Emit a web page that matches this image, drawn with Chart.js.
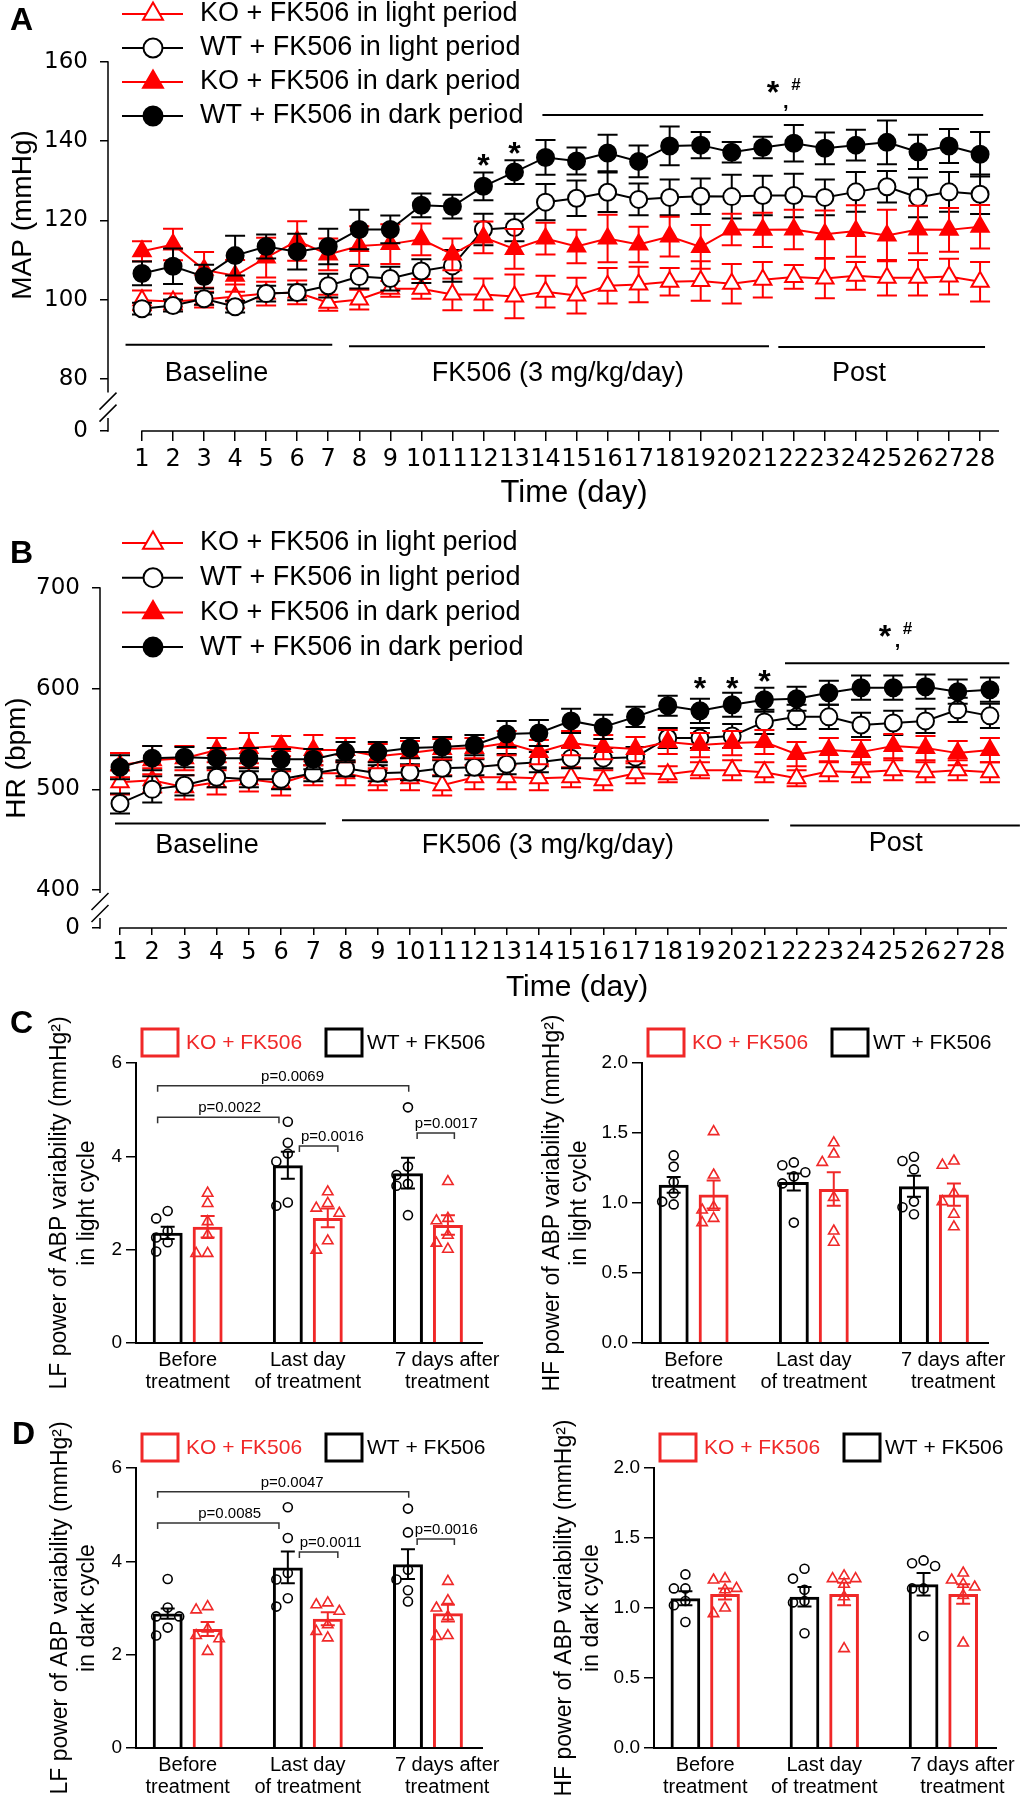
<!DOCTYPE html>
<html>
<head>
<meta charset="utf-8">
<title>FK506: MAP, HR and ABP variability</title>
<script src="https://cdn.jsdelivr.net/npm/chart.js@4.4.1/dist/chart.umd.min.js"></script>
<style>
  html, body { margin:0; padding:0; background:#fff; }
  #fig { position:relative; width:1023px; height:1800px; overflow:hidden; background:#fff; }
  #fig canvas { position:absolute; }
  .plabel { position:absolute; font-family:"Liberation Sans", Arial, sans-serif; font-weight:bold; font-size:32px; line-height:1; color:#000; z-index:2; }
</style>
</head>
<body>
<div id="fig">
  <canvas id="chartA" width="1023" height="520" style="left:0px;top:0px"></canvas>
  <canvas id="chartB" width="1023" height="485" style="left:0px;top:520px"></canvas>
  <canvas id="chartC1" width="510" height="395" style="left:0px;top:1005px"></canvas>
  <canvas id="chartC2" width="513" height="395" style="left:510px;top:1005px"></canvas>
  <canvas id="chartD1" width="510" height="400" style="left:0px;top:1400px"></canvas>
  <canvas id="chartD2" width="513" height="400" style="left:510px;top:1400px"></canvas>
  <div class="plabel" style="left:10px;top:3px">A</div>
  <div class="plabel" style="left:10px;top:536px">B</div>
  <div class="plabel" style="left:10px;top:1006px">C</div>
  <div class="plabel" style="left:12px;top:1417px">D</div>
</div>
<script>
// ---------------- DATA ----------------
const days = [1,2,3,4,5,6,7,8,9,10,11,12,13,14,15,16,17,18,19,20,21,22,23,24,25,26,27,28];
const seriesNames = ['KO + FK506 in light period','WT + FK506 in light period','KO + FK506 in dark period','WT + FK506 in dark period'];
const mapTickValues = [80,100,120,140,160];
const hrTickValues = [400,500,600,700];
const brokenAxisZero = '0';

// Panel A: MAP (mmHg), mean and SEM
const mapKoLight    = [99.8,99.5,100.0,100.8,101.5,101.8,99.2,100.0,102.7,102.7,101.3,101.3,100.8,102.0,101.0,103.5,103.8,104.5,104.7,104.0,105.0,105.7,105.3,106.0,105.5,105.5,105.8,104.5];
const mapKoLightSem = [2.5,2.0,2.0,3.0,3.0,3.0,2.0,2.5,2.0,2.5,4.0,4.0,5.5,4.0,4.5,4.5,4.5,3.5,5.0,5.0,4.5,3.0,5.0,3.5,4.5,4.5,4.5,5.0];
const mapWtLight    = [97.7,98.5,100.2,98.2,101.5,101.8,103.5,105.8,105.3,107.2,108.5,117.7,118.2,124.6,125.6,127.1,125.3,125.8,126.1,126.0,126.3,126.3,125.8,127.2,128.5,125.8,127.2,126.6];
const mapWtLightSem = [1.5,1.5,1.5,1.5,2.0,2.0,3.0,3.0,3.0,3.0,4.0,4.0,3.5,4.6,4.5,5.0,4.0,4.5,4.5,5.5,5.0,5.5,4.5,5.0,4.0,5.0,5.0,5.0];
const mapKoDark     = [112.2,113.9,107.5,106.0,110.6,114.8,111.4,113.5,114.0,115.2,111.4,115.7,112.8,115.4,113.4,115.4,113.9,115.9,113.3,117.7,117.6,117.7,116.5,117.3,116.2,117.7,117.6,118.4];
const mapKoDarkSem  = [2.5,4.0,4.5,4.0,5.0,5.0,4.0,5.0,5.0,4.0,4.0,4.0,5.0,4.0,4.2,6.0,4.5,5.0,5.5,4.0,4.3,5.0,6.0,6.5,6.5,6.0,5.5,5.5];
const mapWtDark     = [106.6,108.4,105.8,111.1,113.4,112.1,113.4,117.7,117.7,123.8,123.5,128.6,132.2,135.9,135.0,137.0,134.9,138.8,139.0,137.2,138.4,139.5,138.2,139.0,139.7,137.3,138.8,136.7];
const mapWtDarkSem  = [3.0,4.5,3.0,5.0,3.0,4.5,4.5,5.0,3.5,3.0,3.0,3.5,3.0,4.4,3.4,4.6,4.0,4.9,3.3,2.6,2.7,4.6,4.0,3.9,5.5,4.3,4.3,5.6];

// Panel B: HR (bpm), mean and SEM
const hrKoLight    = [507,509,502,507,510,506,516,516,509,511,504,512,512,511,512,509,516,515,519,519,517,511,518,517,519,517,519,517];
const hrKoLightSem = [12,12,12,12,12,12,12,12,10,12,10,12,12,12,10,10,10,8,8,10,10,8,10,10,10,10,10,10];
const hrWtLight    = [486,500,504,512,510,510,516,521,516,517,521,522,525,527,531,531,532,551,551,553,567,572,572,564,566,568,579,573];
const hrWtLightSem = [10,13,10,10,8,10,8,8,8,8,8,8,10,10,10,10,10,10,10,12,12,12,12,12,12,12,12,12];
const hrKoDark     = [524,529,531,539,541,543,539,539,533,536,540,541,546,537,546,542,540,547,544,546,547,535,539,537,543,541,536,539];
const hrKoDarkSem  = [12,14,12,12,15,10,15,12,12,12,10,10,12,12,12,12,12,12,12,12,12,12,12,12,12,12,12,12];
const hrWtDark     = [522,531,532,531,531,530,530,537,537,541,542,544,555,556,568,562,572,583,578,584,589,590,596,601,601,602,597,599];
const hrWtDarkSem  = [12,12,10,10,10,10,10,10,10,10,10,10,13,13,12,12,10,10,12,12,12,12,12,12,12,12,12,12];

// Panels C, D: groups
const groupLabels = [['Before','treatment'],['Last day','of treatment'],['7 days after','treatment']];
const groupIdx = [1,2,3];
const groupNames = ['WT + FK506','KO + FK506'];

// C left: LF power, light cycle
const lfLightWt = [2.36,3.81,3.64];   const lfLightWtSem = [0.13,0.29,0.33];
const lfLightKo = [2.49,2.68,2.53];   const lfLightKoSem = [0.23,0.20,0.21];
const lfLightWtPts = [[2.83,2.67,2.40,2.26,2.16,1.96],[4.74,4.29,4.06,3.89,3.01,2.94],[5.05,3.78,3.60,3.41,3.37,2.74]];
const lfLightKoPts = [[3.21,2.99,2.60,2.31,1.92,1.92],[3.24,2.99,2.89,2.78,2.19,1.99],[3.46,2.67,2.62,2.31,2.14,2.01]];
const lfLightP = ['p=0.0069','p=0.0022','p=0.0016','p=0.0017'];

// C right: HF power, light cycle
const hfLightWt = [1.13,1.15,1.12];   const hfLightWtSem = [0.056,0.06,0.075];
const hfLightKo = [1.06,1.10,1.06];   const hfLightKoSem = [0.10,0.12,0.08];
const hfLightWtPts = [[1.34,1.26,1.15,1.07,1.01,0.99],[1.29,1.27,1.22,1.19,1.14,0.86],[1.33,1.30,1.24,1.01,0.97,0.92]];
const hfLightKoPts = [[1.51,1.20,0.97,0.95,0.89,0.86],[1.43,1.35,1.29,1.04,0.80,0.72],[1.30,1.27,1.07,1.01,0.92,0.83]];

// D left: LF power, dark cycle
const lfDarkWt = [2.88,3.87,3.94];    const lfDarkWtSem = [0.11,0.34,0.32];
const lfDarkKo = [2.55,2.77,2.89];    const lfDarkKoSem = [0.15,0.14,0.18];
const lfDarkWtPts = [[3.62,3.01,2.82,2.82,2.58,2.41],[5.16,4.50,3.75,3.61,3.21,3.03],[5.13,4.62,3.82,3.61,3.38,3.14]];
const lfDarkKoPts = [[3.03,2.96,2.55,2.41,2.34,2.07],[3.11,3.07,2.93,2.64,2.50,2.36],[3.57,3.16,3.00,2.82,2.41,2.39]];
const lfDarkP = ['p=0.0047','p=0.0085','p=0.0011','p=0.0016'];

// D right: HF power, dark cycle
const hfDarkWt = [1.07,1.08,1.17];    const hfDarkWtSem = [0.05,0.07,0.08];
const hfDarkKo = [1.10,1.10,1.10];    const hfDarkKoSem = [0.04,0.08,0.07];
const hfDarkWtPts = [[1.24,1.14,1.14,1.05,1.02,0.90],[1.28,1.21,1.13,1.05,1.04,0.82],[1.34,1.32,1.30,1.14,1.14,0.80]];
const hfDarkKoPts = [[1.21,1.20,1.14,1.13,1.00,0.96],[1.23,1.21,1.21,1.17,1.08,0.71],[1.25,1.20,1.17,1.15,1.09,0.75]];

// ---------------- DRAWING ----------------
const FONT = '"Liberation Sans", Arial, Helvetica, sans-serif';
const TICKFONT = '"DejaVu Sans", "Liberation Sans", Arial, sans-serif';
Chart.defaults.font.family = FONT;
Chart.defaults.color = '#000';
const RED = '#ff0000', BLACK = '#000000', BAR_RED = '#f02828';

function marker(ctx, style, x, y, r, stroke, fill, lw) {
  ctx.save();
  ctx.beginPath();
  if (style === 'circle') {
    ctx.arc(x, y, r, 0, Math.PI * 2);
  } else {
    ctx.moveTo(x, y - r);
    ctx.lineTo(x + r * 0.866, y + r * 0.5);
    ctx.lineTo(x - r * 0.866, y + r * 0.5);
    ctx.closePath();
  }
  if (fill) { ctx.fillStyle = fill; ctx.fill(); }
  ctx.lineWidth = lw; ctx.strokeStyle = stroke; ctx.stroke();
  ctx.restore();
}
function vText(ctx, text, x, y, size) {
  ctx.save(); ctx.translate(x, y); ctx.rotate(-Math.PI / 2);
  ctx.font = size + 'px ' + FONT; ctx.textAlign = 'center'; ctx.textBaseline = 'middle';
  ctx.fillStyle = '#000'; ctx.fillText(text, 0, 0); ctx.restore();
}

function buildLineChart(id, spec) {
  const cv = document.getElementById(id);
  const W = cv.width, H = cv.height, A = spec.area;
  const datasets = spec.series.map((s, k) => ({
    label: s.label,
    data: days.map((d, i) => ({ x: d, y: s.values[i] })),
    borderColor: s.color,
    backgroundColor: s.filled ? s.color : '#ffffff',
    pointStyle: s.style,
    pointRadius: s.style === 'circle' ? 8.5 : 10,
    pointHoverRadius: s.style === 'circle' ? 8.5 : 10,
    pointBorderWidth: 2,
    pointBackgroundColor: s.filled ? s.color : '#ffffff',
    pointBorderColor: s.color,
    borderWidth: 2, tension: 0, fill: false,
    order: spec.series.length - k
  }));
  const extras = {
    id: 'lineExtras',
    beforeDatasetDraw(chart, args) {
      const s = spec.series[args.index]; const ys = chart.scales.y; const ctx = chart.ctx;
      ctx.save(); ctx.strokeStyle = s.color; ctx.lineWidth = 2;
      args.meta.data.forEach((pt, i) => {
        const yt = ys.getPixelForValue(s.values[i] + s.sem[i]);
        const yb = ys.getPixelForValue(s.values[i] - s.sem[i]);
        ctx.beginPath();
        ctx.moveTo(pt.x, yt); ctx.lineTo(pt.x, yb);
        ctx.moveTo(pt.x - 10, yt); ctx.lineTo(pt.x + 10, yt);
        ctx.moveTo(pt.x - 10, yb); ctx.lineTo(pt.x + 10, yb);
        ctx.stroke();
      });
      ctx.restore();
    },
    afterDraw(chart) {
      const ctx = chart.ctx, xs = chart.scales.x, ys = chart.scales.y, ca = chart.chartArea;
      ctx.save();
      // broken y axis
      const ax = ca.left, gT = ys.getPixelForValue(spec.brk[0]), gB = ys.getPixelForValue(spec.brk[1]);
      ctx.strokeStyle = '#000'; ctx.lineWidth = 1.5;
      ctx.beginPath();
      ctx.moveTo(ax, ca.top - 0.75); ctx.lineTo(ax, gT);
      ctx.moveTo(ax, gB); ctx.lineTo(ax, ca.bottom + 0.75);
      ctx.moveTo(ax + 8.5, gT); ctx.lineTo(ax - 8.5, gT + 17);
      ctx.moveTo(ax + 8.5, gT + 12); ctx.lineTo(ax - 8.5, gT + 29);
      ctx.stroke();
      // x axis line (starts at the first day)
      ctx.beginPath();
      ctx.moveTo(xs.getPixelForValue(days[0]) - 0.75, ca.bottom); ctx.lineTo(ca.right, ca.bottom);
      ctx.stroke();
      // period bars and significance bar
      ctx.lineWidth = 2;
      spec.annot.lines.forEach(l => {
        const y = ys.getPixelForValue(l[2]);
        ctx.beginPath(); ctx.moveTo(xs.getPixelForValue(l[0]), y); ctx.lineTo(xs.getPixelForValue(l[1]), y); ctx.stroke();
      });
      ctx.fillStyle = '#000'; ctx.textAlign = 'center';
      spec.annot.texts.forEach(t => {
        ctx.font = (t.bold ? 'bold ' : '') + t.size + 'px ' + FONT;
        ctx.textBaseline = t.base || 'middle';
        ctx.fillText(t.t, xs.getPixelForValue(t.x), ys.getPixelForValue(t.y));
      });
      // legend
      const L = spec.legend;
      spec.series.forEach((s, k) => {
        const y = L.y0 + k * L.dy;
        ctx.strokeStyle = s.color; ctx.lineWidth = 2;
        ctx.beginPath(); ctx.moveTo(L.x1, y); ctx.lineTo(L.x2, y); ctx.stroke();
        marker(ctx, s.style, L.xm, y, s.style === 'circle' ? 9.5 : 11.5, s.color, s.filled ? s.color : '#ffffff', 2);
        ctx.fillStyle = '#000'; ctx.font = '27px ' + FONT; ctx.textAlign = 'left'; ctx.textBaseline = 'middle';
        ctx.fillText(s.label, L.xt, y);
      });
      // axis titles
      vText(ctx, spec.yTitle.t, spec.yTitle.x, spec.yTitle.y, spec.yTitle.size);
      ctx.fillStyle = '#000'; ctx.font = spec.xTitle.size + 'px ' + FONT; ctx.textAlign = 'center'; ctx.textBaseline = 'middle';
      ctx.fillText(spec.xTitle.t, spec.xTitle.x, spec.xTitle.y);
      ctx.restore();
    }
  };
  return new Chart(cv, {
    type: 'line',
    data: { datasets },
    options: {
      responsive: false, animation: false, devicePixelRatio: 1, events: [],
      layout: { padding: { left: 0, top: A.t, right: W - A.r, bottom: 0 } },
      plugins: { legend: { display: false }, tooltip: { enabled: false } },
      scales: {
        x: {
          type: 'linear', min: spec.xMin, max: spec.xMax, offset: false,
          afterBuildTicks: sc => { sc.ticks = days.map(d => ({ value: d })); },
          afterFit: sc => { sc.height = H - A.b; },
          ticks: { autoSkip: false, maxRotation: 0, minRotation: 0, font: { size: 24, family: TICKFONT }, color: '#000', padding: spec.xTickPad, callback: v => String(v) },
          grid: { drawOnChartArea: false, drawTicks: true, tickLength: spec.xTickLen, color: '#000', lineWidth: 1.5 },
          border: { display: false }
        },
        y: {
          type: 'linear', min: spec.yMin, max: spec.yMax,
          afterBuildTicks: sc => { sc.ticks = [spec.yMin].concat(spec.yTicks).map(v => ({ value: v })); },
          afterFit: sc => { sc.width = A.l; },
          ticks: { font: { size: 23, family: TICKFONT }, color: '#000', padding: 12, callback: v => (v === spec.yMin ? brokenAxisZero : String(v)) },
          grid: { drawOnChartArea: false, drawTicks: true, tickLength: 8, color: '#000', lineWidth: 1.5 },
          border: { display: false }
        }
      }
    },
    plugins: [extras]
  });
}

// ----- Panel A -----
buildLineChart('chartA', {
  area: { l: 108, t: 62, r: 999, b: 431 },
  xMin: -0.095, xMax: 28.61, yMin: 66.8, yMax: 160, yTicks: mapTickValues,
  xTickPad: 4, xTickLen: 10, brk: [76.5, 70.1],
  series: [
    { label: seriesNames[0], values: mapKoLight, sem: mapKoLightSem, color: RED, style: 'triangle', filled: false },
    { label: seriesNames[1], values: mapWtLight, sem: mapWtLightSem, color: BLACK, style: 'circle', filled: false },
    { label: seriesNames[2], values: mapKoDark, sem: mapKoDarkSem, color: RED, style: 'triangle', filled: true },
    { label: seriesNames[3], values: mapWtDark, sem: mapWtDarkSem, color: BLACK, style: 'circle', filled: true }
  ],
  annot: {
    lines: [[0.47, 7.13, 88.6], [7.67, 21.2, 88.2], [21.5, 28.16, 88.0], [13.9, 28.1, 146.6]],
    texts: [
      { t: 'Baseline', x: 3.4, y: 81.3, size: 27 },
      { t: 'FK506 (3 mg/kg/day)', x: 14.4, y: 81.3, size: 27 },
      { t: 'Post', x: 24.1, y: 81.3, size: 27 },
      { t: '*', x: 12, y: 131.1, size: 32, bold: true, base: 'alphabetic' },
      { t: '*', x: 13, y: 134.3, size: 32, bold: true, base: 'alphabetic' },
      { t: '*', x: 21.33, y: 149.7, size: 32, bold: true, base: 'alphabetic' },
      { t: '#', x: 22.07, y: 152.9, size: 17, bold: true, base: 'alphabetic' },
      { t: ',', x: 21.74, y: 148.4, size: 20, bold: true, base: 'alphabetic' }
    ]
  },
  legend: { x1: 122, x2: 183, xm: 153, xt: 200, y0: 14, dy: 34 },
  yTitle: { t: 'MAP (mmHg)', x: 23, y: 215, size: 28 },
  xTitle: { t: 'Time (day)', x: 574, y: 493, size: 31 }
});

// ----- Panel B -----
buildLineChart('chartB', {
  area: { l: 100, t: 68, r: 1007, b: 408 },
  xMin: 0.379, xMax: 28.53, yMin: 362.3, yMax: 700, yTicks: hrTickValues,
  xTickPad: 3, xTickLen: 7, brk: [397.1, 372.2],
  series: [
    { label: seriesNames[0], values: hrKoLight, sem: hrKoLightSem, color: RED, style: 'triangle', filled: false },
    { label: seriesNames[1], values: hrWtLight, sem: hrWtLightSem, color: BLACK, style: 'circle', filled: false },
    { label: seriesNames[2], values: hrKoDark, sem: hrKoDarkSem, color: RED, style: 'triangle', filled: true },
    { label: seriesNames[3], values: hrWtDark, sem: hrWtDarkSem, color: BLACK, style: 'circle', filled: true }
  ],
  annot: {
    lines: [[0.845, 7.39, 466.2], [7.89, 21.14, 469.2], [21.8, 28.93, 464.2], [21.64, 28.6, 625.2]],
    texts: [
      { t: 'Baseline', x: 3.7, y: 444.4, size: 27 },
      { t: 'FK506 (3 mg/kg/day)', x: 14.28, y: 444.4, size: 27 },
      { t: 'Post', x: 25.08, y: 446.4, size: 27 },
      { t: '*', x: 19, y: 589.8, size: 32, bold: true, base: 'alphabetic' },
      { t: '*', x: 20, y: 589.8, size: 32, bold: true, base: 'alphabetic' },
      { t: '*', x: 21, y: 596.5, size: 32, bold: true, base: 'alphabetic' },
      { t: '*', x: 24.74, y: 641.5, size: 32, bold: true, base: 'alphabetic' },
      { t: '#', x: 25.44, y: 654, size: 17, bold: true, base: 'alphabetic' },
      { t: ',', x: 25.13, y: 641, size: 20, bold: true, base: 'alphabetic' }
    ]
  },
  legend: { x1: 122, x2: 183, xm: 153, xt: 200, y0: 23, dy: 34.7 },
  yTitle: { t: 'HR (bpm)', x: 17, y: 238, size: 28 },
  xTitle: { t: 'Time (day)', x: 577, y: 468, size: 30 }
});

// ----- Bar charts -----
function placeDots(xc, vals, ys, dx) {
  const placed = [];
  vals.forEach(v => {
    const y = ys.getPixelForValue(v);
    let best = xc, bestScore = -1;
    for (const off of [0, -dx, dx]) {
      const x = xc + off;
      let minD = Infinity;
      placed.forEach(p => { const d = Math.hypot(p.x - x, p.y - y); if (d < minD) minD = d; });
      if (minD >= 10) { best = x; bestScore = Infinity; break; }
      if (minD > bestScore) { bestScore = minD; best = x; }
    }
    placed.push({ x: best, y });
  });
  return placed;
}

function buildBarChart(id, spec) {
  const cv = document.getElementById(id);
  const W = cv.width, H = cv.height, A = spec.area;
  const groups = [
    { label: groupNames[0], color: BLACK, mean: spec.wt[0], sem: spec.wt[1], pts: spec.wt[2], style: 'circle' },
    { label: groupNames[1], color: BAR_RED, mean: spec.ko[0], sem: spec.ko[1], pts: spec.ko[2], style: 'triangle' }
  ];
  const datasets = groups.map(g => ({
    label: g.label,
    data: groupIdx.map((x, i) => ({ x: x, y: g.mean[i] })),
    backgroundColor: 'rgba(255,255,255,0)', borderColor: g.color, borderWidth: 3, borderSkipped: 'bottom',
    barPercentage: 0.75, categoryPercentage: 0.665
  }));
  const extras = {
    id: 'barExtras',
    afterDatasetsDraw(chart) {
      const ctx = chart.ctx, ys = chart.scales.y, xs = chart.scales.x;
      ctx.save();
      groups.forEach((g, d) => {
        const meta = chart.getDatasetMeta(d);
        meta.data.forEach((bar, i) => {
          const x = bar.x;
          const yt = ys.getPixelForValue(g.mean[i] + g.sem[i]);
          const yb = ys.getPixelForValue(g.mean[i] - g.sem[i]);
          ctx.strokeStyle = g.color; ctx.lineWidth = 2;
          ctx.beginPath();
          ctx.moveTo(x, yt); ctx.lineTo(x, yb);
          ctx.moveTo(x - 7, yt); ctx.lineTo(x + 7, yt);
          ctx.moveTo(x - 7, yb); ctx.lineTo(x + 7, yb);
          ctx.stroke();
          placeDots(x, g.pts[i], ys, 11.5).forEach(p => {
            marker(ctx, g.style, p.x, p.y, g.style === 'circle' ? 4.5 : 6, g.color, null, 1.6);
          });
        });
      });
      // significance brackets
      ctx.strokeStyle = '#333'; ctx.lineWidth = 1.5; ctx.fillStyle = '#000';
      ctx.font = '15px ' + FONT; ctx.textAlign = 'center'; ctx.textBaseline = 'alphabetic';
      (spec.brackets || []).forEach(b => {
        const y = ys.getPixelForValue(b.y), x1 = xs.getPixelForValue(b.x1), x2 = xs.getPixelForValue(b.x2);
        ctx.beginPath(); ctx.moveTo(x1, y + 6); ctx.lineTo(x1, y); ctx.lineTo(x2, y); ctx.lineTo(x2, y + 6); ctx.stroke();
        ctx.fillText(b.t, xs.getPixelForValue(b.tx), y - 5);
      });
      ctx.restore();
    },
    afterDraw(chart) {
      const ctx = chart.ctx, ca = chart.chartArea;
      ctx.save();
      // legend boxes (KO first, then WT)
      const top = ca.top - 34;
      const items = [
        { g: groups[1], bx: ca.left + 6, tx: ca.left + 50 },
        { g: groups[0], bx: ca.left + 190, tx: ca.left + 231 }
      ];
      items.forEach(it => {
        ctx.strokeStyle = it.g.color; ctx.lineWidth = 3;
        ctx.strokeRect(it.bx, top, 36, 27);
        ctx.fillStyle = it.g.color; ctx.font = '21px ' + FONT; ctx.textAlign = 'left'; ctx.textBaseline = 'middle';
        ctx.fillText(it.g.label, it.tx, top + 14);
      });
      const yc = (ca.top + ca.bottom) / 2;
      spec.title.lines.forEach((t, k) => vText(ctx, t, spec.title.xs[k], yc, 23));
      ctx.restore();
    }
  };
  return new Chart(cv, {
    type: 'bar',
    data: { datasets },
    options: {
      responsive: false, animation: false, devicePixelRatio: 1, events: [],
      layout: { padding: { left: 0, top: A.t, right: W - A.r, bottom: 0 } },
      plugins: { legend: { display: false }, tooltip: { enabled: false } },
      scales: {
        x: {
          type: 'linear', min: 0.57, max: 3.45, offset: false,
          afterBuildTicks: sc => { sc.ticks = groupIdx.map((g, i) => ({ value: g + (i === 2 ? 0.16 : 0) })); },
          afterFit: sc => { sc.height = H - A.b; },
          ticks: { autoSkip: false, maxRotation: 0, minRotation: 0, font: { size: 20, lineHeight: 1.1 }, color: '#000', padding: 6,
                   callback: (v, i) => groupLabels[i] },
          grid: { display: false, drawTicks: false, offset: false },
          border: { display: true, color: '#000', width: 2 }
        },
        y: {
          type: 'linear', min: 0, max: spec.yMax,
          afterFit: sc => { sc.width = A.l; },
          ticks: { stepSize: spec.yStep, font: { size: 19 }, color: '#000', padding: 4, callback: spec.fmt },
          grid: { drawOnChartArea: false, drawTicks: true, tickLength: 10, color: '#000', lineWidth: 1.5 },
          border: { display: true, color: '#000', width: 2 }
        }
      }
    },
    plugins: [extras]
  });
}

buildBarChart('chartC1', {
  area: { l: 136, t: 58, r: 482, b: 338 }, yMax: 6, yStep: 2, fmt: v => String(v),
  wt: [lfLightWt, lfLightWtSem, lfLightWtPts], ko: [lfLightKo, lfLightKoSem, lfLightKoPts],
  brackets: [
    { t: lfLightP[0], x1: 0.75, x2: 2.84, y: 5.51, tx: 1.873 },
    { t: lfLightP[1], x1: 0.75, x2: 1.76, y: 4.84, tx: 1.35 },
    { t: lfLightP[2], x1: 1.93, x2: 2.25, y: 4.22, tx: 2.205 },
    { t: lfLightP[3], x1: 2.91, x2: 3.22, y: 4.50, tx: 3.153 }
  ],
  title: { lines: ['LF power of ABP variability (mmHg\u00B2)', 'in light cycle'], xs: [60, 88] }
});
buildBarChart('chartC2', {
  area: { l: 132, t: 58, r: 478, b: 338 }, yMax: 2, yStep: 0.5, fmt: v => v.toFixed(1),
  wt: [hfLightWt, hfLightWtSem, hfLightWtPts], ko: [hfLightKo, hfLightKoSem, hfLightKoPts],
  brackets: [],
  title: { lines: ['HF power of ABP variability (mmHg\u00B2)', 'in light cycle'], xs: [43, 70] }
});
buildBarChart('chartD1', {
  area: { l: 136, t: 68, r: 482, b: 348 }, yMax: 6, yStep: 2, fmt: v => String(v),
  wt: [lfDarkWt, lfDarkWtSem, lfDarkWtPts], ko: [lfDarkKo, lfDarkKoSem, lfDarkKoPts],
  brackets: [
    { t: lfDarkP[0], x1: 0.75, x2: 2.84, y: 5.49, tx: 1.87 },
    { t: lfDarkP[1], x1: 0.75, x2: 1.76, y: 4.82, tx: 1.35 },
    { t: lfDarkP[2], x1: 1.93, x2: 2.25, y: 4.20, tx: 2.19 },
    { t: lfDarkP[3], x1: 2.91, x2: 3.22, y: 4.48, tx: 3.153 }
  ],
  title: { lines: ['LF power of ABP variability (mmHg\u00B2)', 'in dark cycle'], xs: [61, 88] }
});
buildBarChart('chartD2', {
  area: { l: 144, t: 68, r: 490, b: 348 }, yMax: 2, yStep: 0.5, fmt: v => v.toFixed(1),
  wt: [hfDarkWt, hfDarkWtSem, hfDarkWtPts], ko: [hfDarkKo, hfDarkKoSem, hfDarkKoPts],
  brackets: [],
  title: { lines: ['HF power of ABP variability (mmHg\u00B2)', 'in dark cycle'], xs: [55, 82] }
});
</script>
</body>
</html>
